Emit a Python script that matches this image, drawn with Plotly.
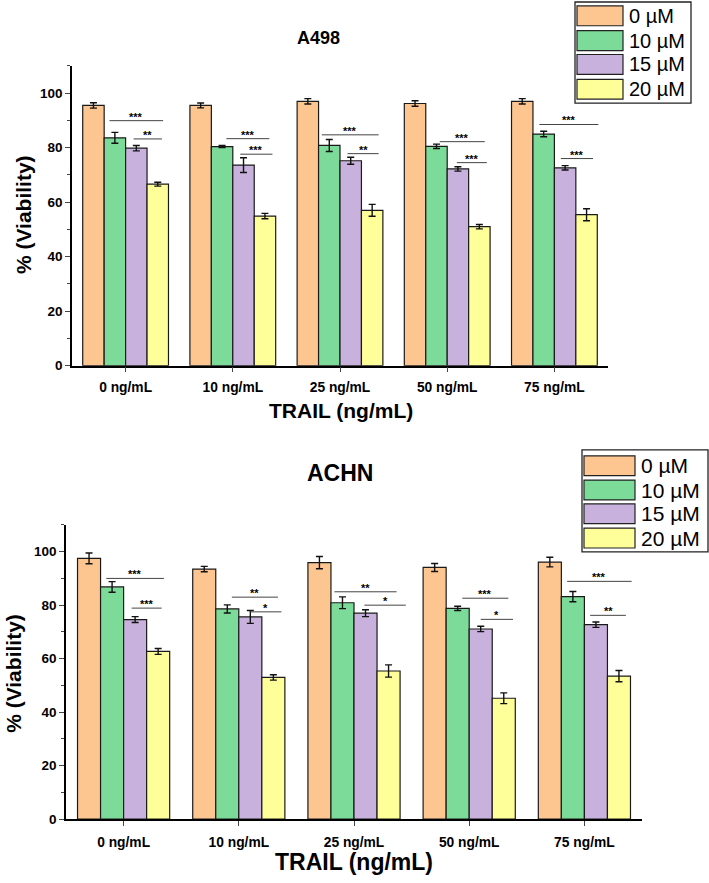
import plotly.graph_objects as go

W, H = 709, 883

categories = ["0 ng/mL", "10 ng/mL", "25 ng/mL", "50 ng/mL", "75 ng/mL"]
series_names = ["0 µM", "10 µM", "15 µM", "20 µM"]
colors = ["#FDC690", "#7DDB99", "#C8B1DC", "#FFFF99"]

# A498 panel
a498_vals = [
    [95.5, 95.5, 97.0, 96.2, 97.0],
    [83.6, 80.4, 80.8, 80.5, 85.0],
    [79.8, 73.6, 75.2, 72.2, 72.6],
    [66.6, 54.9, 57.0, 51.0, 55.4],
]
a498_err = [
    [1.0, 0.9, 1.0, 1.0, 1.0],
    [2.0, 0.4, 2.2, 0.8, 1.0],
    [1.0, 2.7, 1.3, 0.8, 0.8],
    [0.7, 1.0, 2.2, 0.8, 2.2],
]
a498_sig_x0 = [-0.15, 0.075, 0.94, 1.07, 1.83, 2.07, 2.93, 3.09, 3.86, 4.06]
a498_sig_x1 = [0.35, 0.34, 1.34, 1.37, 2.36, 2.36, 3.35, 3.37, 4.41, 4.36]
a498_sig_y = [89.9, 83.2, 83.3, 77.6, 84.7, 77.8, 82.2, 74.5, 88.5, 76.0]
a498_sig_lbl = ["***", "**", "***", "***", "***", "**", "***", "***", "***", "***"]

# ACHN panel
achn_vals = [
    [97.5, 93.5, 95.9, 94.1, 96.1],
    [86.8, 78.6, 80.9, 78.8, 83.2],
    [74.6, 75.6, 77.0, 71.1, 72.7],
    [62.7, 53.0, 55.4, 45.2, 53.5],
]
achn_err = [
    [2.0, 1.0, 2.3, 1.5, 1.8],
    [2.0, 1.5, 2.2, 0.8, 1.9],
    [1.1, 2.4, 1.3, 1.0, 1.0],
    [1.1, 1.0, 2.3, 2.0, 2.1],
]
achn_sig_x0 = [-0.15, 0.07, 0.94, 1.10, 1.83, 2.09, 2.94, 3.10, 3.85, 4.05]
achn_sig_x1 = [0.35, 0.33, 1.34, 1.37, 2.37, 2.45, 3.34, 3.38, 4.41, 4.36]
achn_sig_y = [90.0, 78.9, 83.0, 77.5, 85.0, 80.0, 82.6, 74.7, 88.9, 76.2]
achn_sig_lbl = ["***", "***", "**", "*", "**", "*", "***", "*", "***", "**"]

panel_titles = ["A498", "ACHN"]
x_title = "TRAIL (ng/mL)"
y_title = "% (Viability)"
y_ticks = [0, 20, 40, 60, 80, 100]

FONT = "Arial, Liberation Sans, sans-serif"


def px(x):
    return x / W


def py(y):
    return 1 - y / H


fig = go.Figure()
xpos = list(range(len(categories)))

panels = [
    dict(vals=a498_vals, err=a498_err, xa="x", ya="y",
         sx0=a498_sig_x0, sx1=a498_sig_x1, sy=a498_sig_y, sl=a498_sig_lbl),
    dict(vals=achn_vals, err=achn_err, xa="x2", ya="y2",
         sx0=achn_sig_x0, sx1=achn_sig_x1, sy=achn_sig_y, sl=achn_sig_lbl),
]

for p in panels:
    for i, name in enumerate(series_names):
        fig.add_trace(go.Bar(
            x=xpos, y=p["vals"][i], name=name, xaxis=p["xa"], yaxis=p["ya"],
            marker=dict(color=colors[i], line=dict(color="#1a1a1a", width=1.2)),
            error_y=dict(type="data", array=p["err"][i], color="#111",
                         thickness=1.4, width=3.5),
            showlegend=False, offsetgroup=str(i),
        ))
    for x0, x1, y, lbl in zip(p["sx0"], p["sx1"], p["sy"], p["sl"]):
        fig.add_shape(type="line", xref=p["xa"], yref=p["ya"],
                      x0=x0, x1=x1, y0=y, y1=y,
                      line=dict(color="#444", width=1))
        fig.add_annotation(x=(x0 + x1) / 2, y=y, xref=p["xa"], yref=p["ya"],
                           text="<b>%s</b>" % lbl, showarrow=False,
                           xanchor="center", yanchor="bottom",
                           yshift=-4, font=dict(size=11, color="black",
                                                family=FONT))

axis_common = dict(
    showline=True, linecolor="black", linewidth=1.5, mirror=False,
    showgrid=False, zeroline=False,
)

xtickfont = dict(family=FONT, size=13.8, color="black")
ytickfont = dict(family=FONT, size=13.5, color="black")

fig.update_layout(
    xaxis=dict(domain=[px(72), px(608)], range=[-0.5, 4.5], anchor="y",
               tickmode="array", tickvals=xpos,
               ticktext=["<b>%s</b>" % c for c in categories],
               ticks="outside", ticklen=5, tickwidth=1.2,
               ticklabelstandoff=3,
               tickfont=xtickfont, **axis_common),
    yaxis=dict(domain=[py(369), py(66.5)], range=[0, 110], anchor="x",
               tickvals=y_ticks, ticktext=["<b>%d</b>" % t for t in y_ticks],
               ticks="outside", ticklen=5, tickwidth=1.2,
               minor=dict(dtick=10, ticks="outside", ticklen=3, tickwidth=1),
               tickfont=ytickfont, **axis_common),
    xaxis2=dict(domain=[px(66), px(642)], range=[-0.5, 4.5], anchor="y2",
                tickmode="array", tickvals=xpos,
                ticktext=["<b>%s</b>" % c for c in categories],
                ticks="outside", ticklen=5, tickwidth=1.2,
                ticklabelstandoff=4,
                tickfont=xtickfont, **axis_common),
    yaxis2=dict(domain=[py(826.7), py(529.7)], range=[0, 110], anchor="x2",
                tickvals=y_ticks, ticktext=["<b>%d</b>" % t for t in y_ticks],
                ticks="outside", ticklen=5, tickwidth=1.2,
                minor=dict(dtick=10, ticks="outside", ticklen=3, tickwidth=1),
                tickfont=ytickfont, **axis_common),
)

# panel titles
fig.add_annotation(x=px(318), y=py(38), xref="paper", yref="paper",
                   xanchor="center", yanchor="middle",
                   text="<b>%s</b>" % panel_titles[0], showarrow=False,
                   font=dict(family=FONT, size=18, color="black"))
fig.add_annotation(x=px(340), y=py(477), xref="paper", yref="paper",
                   xanchor="center", yanchor="middle",
                   text="<b>%s</b>" % panel_titles[1], showarrow=False,
                   font=dict(family=FONT, size=23, color="black"))

# axis titles
for (xc, yc, fs) in [(341, 414, 21), (354, 870, 23)]:
    fig.add_annotation(x=px(xc), y=py(yc), xref="paper", yref="paper",
                       xanchor="center", yanchor="middle",
                       text="<b>%s</b>" % x_title, showarrow=False,
                       font=dict(family=FONT, size=fs, color="black"))
for (xc, yc) in [(23, 217), (14, 680)]:
    fig.add_annotation(x=px(xc), y=py(yc), xref="paper", yref="paper",
                       xanchor="center", yanchor="middle",
                       text="<b>%s</b>" % y_title, showarrow=False,
                       textangle=-90,
                       font=dict(family=FONT, size=21, color="black"))

# manual legends (box, swatches, labels)
legends = [
    dict(box=(575, 2, 691, 104), sw=(577, 623), rows=[16, 41, 65, 90],
         sh=20, tx=627, fs=20),
    dict(box=(582, 454, 708, 557), sw=(584, 635), rows=[470, 494.5, 518.5, 543],
         sh=20, tx=639, fs=21),
]
for lg in legends:
    bx0, by0, bx1, by1 = lg["box"]
    fig.add_shape(type="rect", xref="paper", yref="paper",
                  x0=px(bx0), x1=px(bx1), y0=py(by1), y1=py(by0),
                  line=dict(color="#222", width=1.3), fillcolor="white",
                  layer="above")
    for i, name in enumerate(series_names):
        yc = lg["rows"][i]
        fig.add_shape(type="rect", xref="paper", yref="paper",
                      x0=px(lg["sw"][0]), x1=px(lg["sw"][1]),
                      y0=py(yc + lg["sh"] / 2), y1=py(yc - lg["sh"] / 2),
                      line=dict(color="#222", width=1.2),
                      fillcolor=colors[i], layer="above")
        fig.add_annotation(x=px(lg["tx"]), y=py(yc), xref="paper", yref="paper",
                           text=name, showarrow=False,
                           xanchor="left", yanchor="middle",
                           font=dict(family=FONT, size=lg["fs"], color="black"))

fig.update_layout(
    width=W, height=H, margin=dict(l=0, r=0, t=0, b=0),
    paper_bgcolor="white", plot_bgcolor="white",
    barmode="group", bargap=0.2, bargroupgap=0,
    font=dict(family=FONT, color="black"),
)

fig.write_html("out.html")
